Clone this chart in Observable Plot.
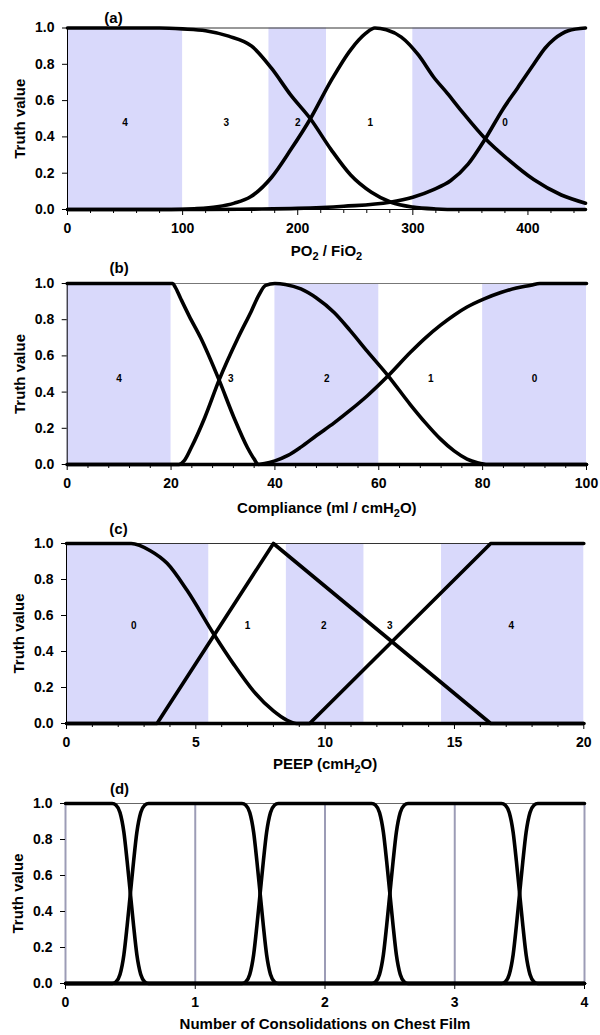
<!DOCTYPE html>
<html><head><meta charset="utf-8">
<script src="https://cdn.jsdelivr.net/npm/d3@7"></script>
<script src="https://cdn.jsdelivr.net/npm/@observablehq/plot@0.6"></script>
<style>
body{margin:0;background:#fff;font-family:"Liberation Sans",Arial,sans-serif;}
#chart{width:600px;}
#chart svg{display:block;}
</style></head><body><div id="chart"></div>
<script>
// ---------- Panel (a): PO2 / FiO2 ----------
const aShadeX1 = [0, 175, 300];
const aShadeX2 = [100, 225, 450];
const aRegionLabels = ["4", "3", "2", "1", "0"];
const aRegionX = [50, 138, 200, 263, 380];
const aTicks = [0, 100, 200, 300, 400];
const a1X = [0, 80, 100, 120, 140, 160, 177, 194, 211, 229, 246, 264, 281, 300, 320, 340, 450];
const a1Y = [1, 1, 0.995, 0.985, 0.955, 0.9, 0.78, 0.63, 0.5, 0.33, 0.19, 0.095, 0.04, 0.013, 0.003, 0, 0];
const a2X = [0, 90, 110, 130, 145, 159, 177, 194, 211, 229, 246, 259, 267, 277, 290, 305, 318, 330, 342, 363, 382, 405, 429, 450];
const a2Y = [0, 0, 0.004, 0.015, 0.035, 0.07, 0.175, 0.33, 0.5, 0.71, 0.88, 0.97, 1, 0.99, 0.95, 0.85, 0.73, 0.64, 0.545, 0.39, 0.28, 0.165, 0.08, 0.035];
const a3X = [0, 120, 160, 200, 240, 280, 300, 318, 333, 348, 363, 378, 391, 405, 415, 423, 435, 450];
const a3Y = [0, 0, 0.002, 0.006, 0.018, 0.04, 0.068, 0.11, 0.16, 0.25, 0.39, 0.55, 0.67, 0.80, 0.89, 0.94, 0.985, 1];

// ---------- Panel (b): Compliance ----------
const bShadeX1 = [0, 40, 80];
const bShadeX2 = [20, 60, 100];
const bRegionLabels = ["4", "3", "2", "1", "0"];
const bRegionX = [10, 31.5, 50, 70, 90];
const bTicks = [0, 20, 40, 60, 80, 100];
const b1X = [0, 20.3, 20.8, 21.8, 23.5, 25.7, 29.2, 32.1, 34.7, 36, 36.8, 100];
const b1Y = [1, 1, 0.98, 0.92, 0.82, 0.70, 0.47, 0.26, 0.094, 0.03, 0, 0];
const b2X = [0, 21.5, 22.5, 23.9, 26.5, 29.3, 32.9, 35.5, 36.8, 38.2, 40, 42, 45, 48, 51.4, 54.5, 57.8, 61.8, 66.1, 69, 71.9, 74.5, 77, 79, 81, 100];
const b2Y = [0, 0, 0.02, 0.094, 0.26, 0.47, 0.70, 0.85, 0.93, 0.99, 1, 0.995, 0.97, 0.92, 0.84, 0.74, 0.625, 0.49, 0.33, 0.23, 0.14, 0.075, 0.03, 0.01, 0, 0];
const b3X = [0, 36.5, 38, 40, 42.5, 45, 48, 51.4, 54.5, 57.8, 61.8, 66.1, 69, 71.9, 74.5, 77, 80.3, 83.5, 86.5, 89.3, 91, 100];
const b3Y = [0, 0, 0.005, 0.02, 0.05, 0.096, 0.16, 0.23, 0.3, 0.38, 0.49, 0.62, 0.70, 0.77, 0.825, 0.87, 0.915, 0.95, 0.975, 0.99, 1, 1];

// ---------- Panel (c): PEEP ----------
const cShadeX1 = [0, 8.5, 14.5];
const cShadeX2 = [5.5, 11.5, 20];
const cRegionLabels = ["0", "1", "2", "3", "4"];
const cRegionX = [2.6, 7, 9.95, 12.5, 17.2];
const cTicks = [0, 5, 10, 15, 20];
const c1X = [0, 2.5, 3.24, 3.89, 4.66, 5.68, 6.46, 7.23, 8.0, 8.5, 8.9, 20];
const c1Y = [1, 1, 0.96, 0.89, 0.74, 0.5, 0.33, 0.18, 0.07, 0.02, 0, 0];
const c2X = [0, 3.5, 8, 16.4, 20];
const c2Y = [0, 0, 1, 0, 0];
const c3X = [0, 9.4, 16.4, 20];
const c3Y = [0, 0, 1, 1];

// ---------- Panel (d): consolidations ----------
const dTicks = [0, 1, 2, 3, 4];
const d0X = [0, 0.36, 0.39, 0.42, 0.45, 0.475, 0.5, 0.525, 0.55, 0.58, 0.61, 0.64, 4];
const d0Y = [1, 1, 0.99, 0.95, 0.84, 0.68, 0.5, 0.32, 0.16, 0.05, 0.01, 0, 0];
const d1X = [0, 0.36, 0.39, 0.42, 0.45, 0.475, 0.5, 0.525, 0.55, 0.58, 0.61, 0.64,
             1.36, 1.39, 1.42, 1.45, 1.475, 1.5, 1.525, 1.55, 1.58, 1.61, 1.64, 4];
const d1Y = [0, 0, 0.01, 0.05, 0.16, 0.32, 0.5, 0.68, 0.84, 0.95, 0.99, 1,
             1, 0.99, 0.95, 0.84, 0.68, 0.5, 0.32, 0.16, 0.05, 0.01, 0, 0];
const d2X = [0, 1.36, 1.39, 1.42, 1.45, 1.475, 1.5, 1.525, 1.55, 1.58, 1.61, 1.64,
             2.36, 2.39, 2.42, 2.45, 2.475, 2.5, 2.525, 2.55, 2.58, 2.61, 2.64, 4];
const d2Y = [0, 0, 0.01, 0.05, 0.16, 0.32, 0.5, 0.68, 0.84, 0.95, 0.99, 1,
             1, 0.99, 0.95, 0.84, 0.68, 0.5, 0.32, 0.16, 0.05, 0.01, 0, 0];
const d3X = [0, 2.36, 2.39, 2.42, 2.45, 2.475, 2.5, 2.525, 2.55, 2.58, 2.61, 2.64,
             3.36, 3.39, 3.42, 3.45, 3.475, 3.5, 3.525, 3.55, 3.58, 3.61, 3.64, 4];
const d3Y = [0, 0, 0.01, 0.05, 0.16, 0.32, 0.5, 0.68, 0.84, 0.95, 0.99, 1,
             1, 0.99, 0.95, 0.84, 0.68, 0.5, 0.32, 0.16, 0.05, 0.01, 0, 0];
const d4X = [0, 3.36, 3.39, 3.42, 3.45, 3.475, 3.5, 3.525, 3.55, 3.58, 3.61, 3.64, 4];
const d4Y = [0, 0, 0.01, 0.05, 0.16, 0.32, 0.5, 0.68, 0.84, 0.95, 0.99, 1, 1];

const yTicks = [0, 0.2, 0.4, 0.6, 0.8, 1.0];

const SHADE = "#d9d9fb";
const GRID = "#9c9cb6";
const FONT = "'Liberation Sans', Arial, Helvetica, sans-serif";

function toRows(curves) {
  const rows = [];
  curves.forEach((c, k) => c.x.forEach((x, j) => rows.push({k, x, y: c.y[j]})));
  return rows;
}

function panel(cfg) {
  const marks = [];
  if (cfg.shadeX1) {
    const shade = cfg.shadeX1.map((x1, i) => ({x1, x2: cfg.shadeX2[i], y1: 0, y2: 1}));
    marks.push(Plot.rect(shade, {x1: "x1", x2: "x2", y1: "y1", y2: "y2", fill: SHADE}));
  }
  marks.push(Plot.ruleY([1], {stroke: cfg.topStroke || "#333", strokeWidth: 1}));
  marks.push(Plot.ruleY([0], {stroke: "#000", strokeWidth: 1}));
  if (cfg.grid) {
    marks.push(Plot.ruleX(cfg.grid, {y1: 0, y2: 1, stroke: GRID, strokeWidth: 2}));
  } else {
    marks.push(Plot.ruleX([cfg.domain[0]], {y1: 0, y2: 1, stroke: "#000", strokeWidth: 1}));
  }
  marks.push(Plot.axisY({ticks: yTicks, tickFormat: d3.format(".1f"), tickSize: 5, tickPadding: 8, label: null, fontSize: 14, fontWeight: "bold"}));
  marks.push(Plot.axisX({ticks: cfg.ticks, tickFormat: d3.format("d"), tickSize: 6, tickPadding: 8, label: null, fontSize: 14, fontWeight: "bold"}));
  if (cfg.minor) marks.push(Plot.axisX({ticks: cfg.minor, tickSize: 4, tickFormat: () => "", label: null}));
  // curves
  cfg.curveSets.forEach(cs => {
    marks.push(Plot.line(toRows(cs.curves), {x: "x", y: "y", z: "k", stroke: "#000", strokeWidth: 3.6, curve: cs.curve, strokeLinejoin: "round"}));
  });
  if (cfg.regionLabels) {
    const lab = cfg.regionLabels.map((t, i) => ({t, x: cfg.regionX[i], y: cfg.regionY}));
    marks.push(Plot.text(lab, {x: "x", y: "y", text: "t", fontSize: 10, fontWeight: "bold", fill: "#000"}));
  }
  marks.push(Plot.text([cfg.panelLabel], {frameAnchor: "top-left", dx: cfg.panelDx, dy: cfg.panelDy, textAnchor: "middle", lineAnchor: "middle", fontSize: 15, fontWeight: "bold"}));
  marks.push(Plot.text([cfg.xLabel], {frameAnchor: "bottom", dy: cfg.xLabelDy, lineAnchor: "bottom", textAnchor: "middle", fontSize: 15, fontWeight: "bold"}));
  marks.push(Plot.text(["Truth value"], {frameAnchor: "left", dx: -47, rotate: -90, textAnchor: "middle", lineAnchor: "middle", fontSize: 15, fontWeight: "bold"}));

  const svg = Plot.plot({
    width: 600, height: cfg.height,
    marginTop: cfg.mt, marginBottom: cfg.mb, marginLeft: cfg.ml, marginRight: cfg.mr,
    x: {domain: cfg.domain, axis: null},
    y: {domain: [0, 1], axis: null},
    style: {fontFamily: FONT, color: "#000", background: "#fff", overflow: "visible"},
    marks
  });
  subscriptify(svg);
  return svg;
}

function subscriptify(svg) {
  const ns = "http://www.w3.org/2000/svg";
  svg.querySelectorAll("text").forEach(t => {
    const s = t.textContent;
    if (!s.includes("\u2082")) return;
    t.textContent = "";
    const parts = s.split("\u2082");
    parts.forEach((p, i) => {
      if (i > 0) {
        const sub = document.createElementNS(ns, "tspan");
        sub.setAttribute("dy", "4");
        sub.setAttribute("font-size", "11");
        sub.textContent = "2";
        t.appendChild(sub);
      }
      if (p) {
        const n = document.createElementNS(ns, "tspan");
        if (i > 0) n.setAttribute("dy", "-4");
        n.textContent = p;
        t.appendChild(n);
      }
    });
  });
}

const chart = document.getElementById("chart");

chart.appendChild(panel({
  height: 258, mt: 27.5, mb: 49, ml: 67, mr: 15,
  domain: [0, 450], ticks: aTicks, minor: d3.range(20, 450, 20).filter(v => v % 100 !== 0),
  shadeX1: aShadeX1, shadeX2: aShadeX2,
  regionLabels: aRegionLabels, regionX: aRegionX, regionY: 0.48,
  curveSets: [{curve: "monotone-x", curves: [{x: a1X, y: a1Y}, {x: a2X, y: a2Y}, {x: a3X, y: a3Y}]}],
  panelLabel: "(a)", panelDx: 46, panelDy: -10,
  xLabel: "PO\u2082 / FiO\u2082", xLabelDy: 46
}));

chart.appendChild(panel({
  height: 260, mt: 25, mb: 54, ml: 66.7, mr: 14,
  domain: [0, 100], ticks: bTicks, minor: d3.range(4, 100, 4).filter(v => v % 20 !== 0),
  shadeX1: bShadeX1, shadeX2: bShadeX2, topStroke: "#777",
  regionLabels: bRegionLabels, regionX: bRegionX, regionY: 0.475,
  curveSets: [{curve: "monotone-x", curves: [{x: b1X, y: b1Y}, {x: b2X, y: b2Y}, {x: b3X, y: b3Y}]}],
  panelLabel: "(b)", panelDx: 52, panelDy: -15.5,
  xLabel: "Compliance (ml / cmH\u2082O)", xLabelDy: 48
}));

chart.appendChild(panel({
  height: 260, mt: 25, mb: 55, ml: 66, mr: 16.7,
  domain: [0, 20], ticks: cTicks, minor: d3.range(1, 20, 1).filter(v => v % 5 !== 0),
  shadeX1: cShadeX1, shadeX2: cShadeX2,
  regionLabels: cRegionLabels, regionX: cRegionX, regionY: 0.545,
  curveSets: [
    {curve: "monotone-x", curves: [{x: c1X, y: c1Y}]},
    {curve: "linear", curves: [{x: c2X, y: c2Y}, {x: c3X, y: c3Y}]}
  ],
  panelLabel: "(c)", panelDx: 52, panelDy: -14.7,
  xLabel: "PEEP (cmH\u2082O)", xLabelDy: 45
}));

chart.appendChild(panel({
  height: 257, mt: 25, mb: 52, ml: 65, mr: 16,
  domain: [0, 4], ticks: dTicks, grid: dTicks, topStroke: "#666",
  curveSets: [{curve: "monotone-x", curves: [{x: d0X, y: d0Y}, {x: d1X, y: d1Y}, {x: d2X, y: d2Y}, {x: d3X, y: d3Y}, {x: d4X, y: d4Y}]}],
  panelLabel: "(d)", panelDx: 54, panelDy: -14.7,
  xLabel: "Number of Consolidations on Chest Film", xLabelDy: 45
}));
</script>
</body></html>
